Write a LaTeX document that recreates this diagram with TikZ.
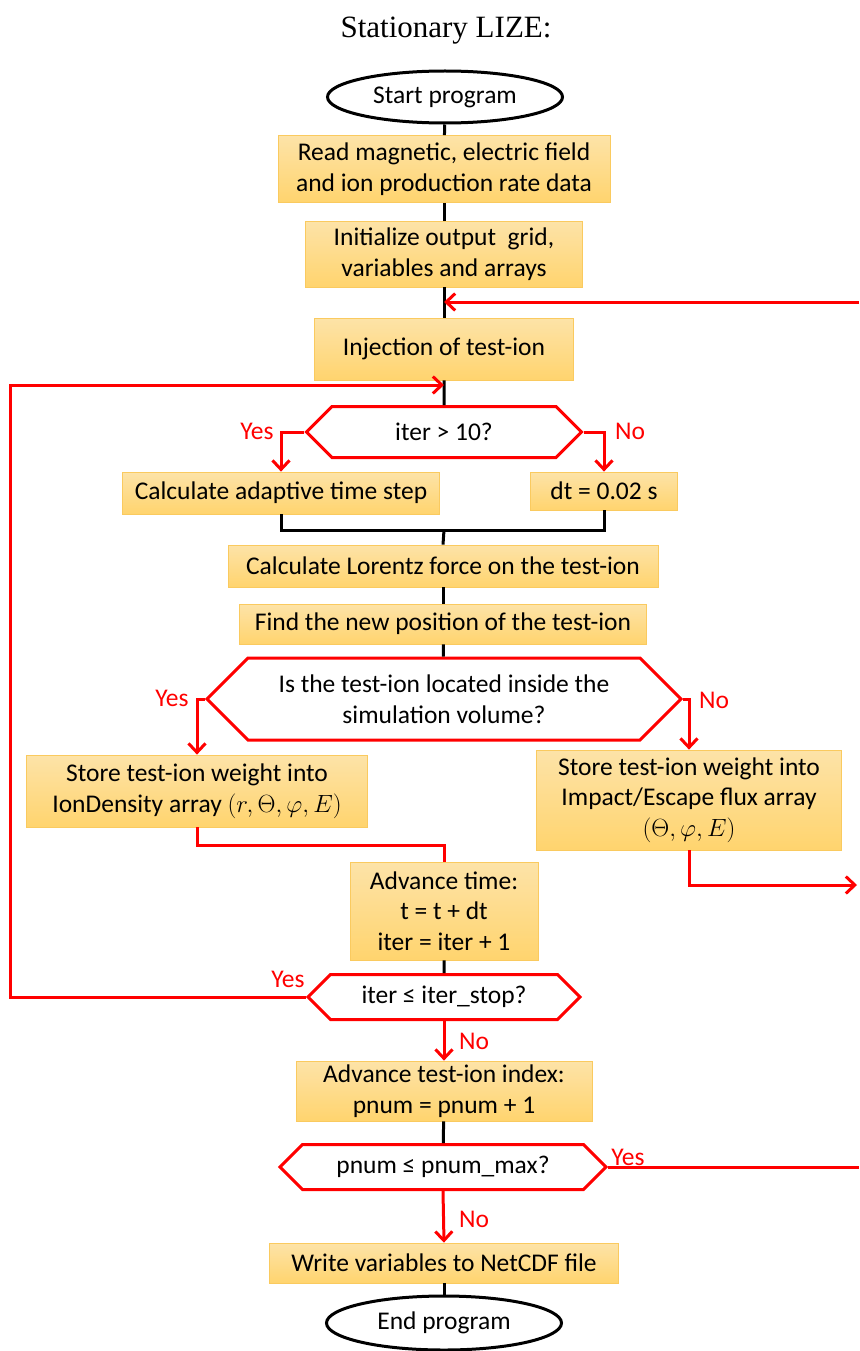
\documentclass[tikz,border=0pt]{standalone}
\usepackage{fontspec}
\setmainfont{Carlito}
\newfontfamily\titlefont{Liberation Serif}
\usetikzlibrary{shapes.symbols,shapes.geometric,arrows.meta}

\begin{document}
\begin{tikzpicture}[x=1pt,y=-1pt,
    font=\fontsize{25.5}{30.5}\selectfont,
    procbox/.style={draw=boxedge, line width=0.8pt, top color=boxtop, bottom color=boxbot, align=center, inner sep=0pt},
    query/.style={signal, signal to=west and east, signal pointer angle=90, draw=flowred, line width=3pt, fill=white, align=center, inner sep=0pt},
    terminal/.style={ellipse, draw=black, line width=3pt, minimum width=235pt, minimum height=52pt, inner sep=0pt},
    blackline/.style={draw=black, line width=3pt},
    redline/.style={draw=flowred, line width=3pt},
    redarrow/.style={redline, -{Straight Barb[length=9pt,width=17pt,line width=3pt]}},
    answer/.style={text=flowred}]
        \definecolor{flowred}{RGB}{255,0,0}
        \definecolor{boxtop}{RGB}{253,227,168}
        \definecolor{boxbot}{RGB}{255,212,110}
        \definecolor{boxedge}{RGB}{250,202,95}

        \useasboundingbox (0,0) rectangle (859,1351);

        % Title
        \node[font=\titlefont\fontsize{31}{34}\selectfont] (title) at (446,31) {Stationary LIZE:};

        % Main column
        \node[terminal] (start) at (445,97) {Start program};
        \node[procbox, minimum width=332pt, minimum height=67pt] (read) at (444,169) {Read magnetic, electric field\\and ion production rate data};
        \node[procbox, minimum width=277pt, minimum height=66pt] (init) at (444,254) {Initialize output~ grid,\\variables and arrays};
        \node[procbox, minimum width=259pt, minimum height=62pt] (inject) at (444,349) {Injection of test-ion};
        \node[query, minimum width=275pt, minimum height=51pt] (test10) at (444,432) {iter > 10?};
        \node[procbox, minimum width=317pt, minimum height=42pt] (adapt) at (281,493) {Calculate adaptive time step};
        \node[procbox, minimum width=147pt, minimum height=38pt] (fixdt) at (604,491) {dt = 0.02 s};
        \node[procbox, minimum width=430pt, minimum height=42pt] (lorentz) at (443,566) {Calculate Lorentz force on the test-ion};
        \node[procbox, minimum width=407pt, minimum height=40pt] (newpos) at (443,624) {Find the new position of the test-ion};
        \node[query, minimum width=474pt, minimum height=82pt] (inside) at (444,699) {Is the test-ion located inside the\\simulation volume?};
        \node[procbox, minimum width=341pt, minimum height=72pt] (storeden) at (197,791) {Store test-ion weight into\\IonDensity array $(r,\Theta,\varphi,E)$};
        \node[procbox, minimum width=305pt, minimum height=100pt] (storeflux) at (689,800) {Store test-ion weight into\\Impact/Escape flux array\\$(\Theta,\varphi,E)$};
        \node[procbox, minimum width=188pt, minimum height=98pt] (advtime) at (444,911) {Advance time:\\t = t + dt\\iter = iter + 1};
        \node[query, minimum width=272pt, minimum height=45pt] (iterq) at (444,997) {iter ≤ iter\_stop?};
        \node[procbox, minimum width=296pt, minimum height=60pt] (advidx) at (444,1091) {Advance test-ion index:\\pnum = pnum + 1};
        \node[query, minimum width=326pt, minimum height=45pt] (pnumq) at (443,1167) {pnum ≤ pnum\_max?};
        \node[procbox, minimum width=349pt, minimum height=40pt] (write) at (444,1263) {Write variables to NetCDF file};
        \node[terminal, minimum height=54pt] (stop) at (444,1323) {End program};

        % Helper points
        \coordinate (merge) at (444,530);
        \coordinate (reentry) at (444,302);
        \coordinate (loopin) at (444,385);
        \coordinate (leftrail) at (10,385);
        \coordinate (fromright) at (859,302);
        \coordinate (fluxout) at (857,885);
        \coordinate (pnumout) at (859,1167);

        % Black connectors
        \draw[blackline] (start) -- (read);
        \draw[blackline] (read) -- (init);
        \draw[blackline] (init) -- (inject);
        \draw[blackline] (inject) -- (test10);
        \draw[blackline] (adapt.south) |- (merge) -| (fixdt.south);
        \draw[blackline] (merge) -- (lorentz.north);
        \draw[blackline] (lorentz) -- (newpos);
        \draw[blackline] (newpos) -- (inside);
        \draw[blackline] (advtime) -- (iterq);
        \draw[blackline] (advidx) -- (pnumq);
        \draw[blackline] (write) -- (stop);

        % Red connectors
        \draw[redarrow] (fromright) -- (reentry);
        \draw[redarrow] (test10.west) -| (adapt.north);
        \draw[redarrow] (test10.east) -| (fixdt.north);
        \draw[redarrow] (inside.west) -| (storeden.north);
        \draw[redarrow] (inside.east) -| (storeflux.north);
        \draw[redline] (storeden.south) |- ++(0,18) -| (advtime.north);
        \draw[redarrow] (storeflux.south) |- (fluxout);
        \draw[redarrow] (iterq.west) -| (leftrail) -- (loopin);
        \draw[redarrow] (iterq.south) -- (advidx.north);
        \draw[redline] (pnumq.east) -- (pnumout);
        \draw[redarrow] (pnumq.south) -- (write.north);

        % Branch labels
        \node[answer] (yes1) at (257,431) {Yes};
        \node[answer] (no1) at (630,431) {No};
        \node[answer] (yes2) at (172,698) {Yes};
        \node[answer] (no2) at (714,700) {No};
        \node[answer] (yes3) at (288,979) {Yes};
        \node[answer] (no3) at (474,1041) {No};
        \node[answer] (yes4) at (628,1157) {Yes};
        \node[answer] (no4) at (474,1219) {No};
\end{tikzpicture}
\end{document}
